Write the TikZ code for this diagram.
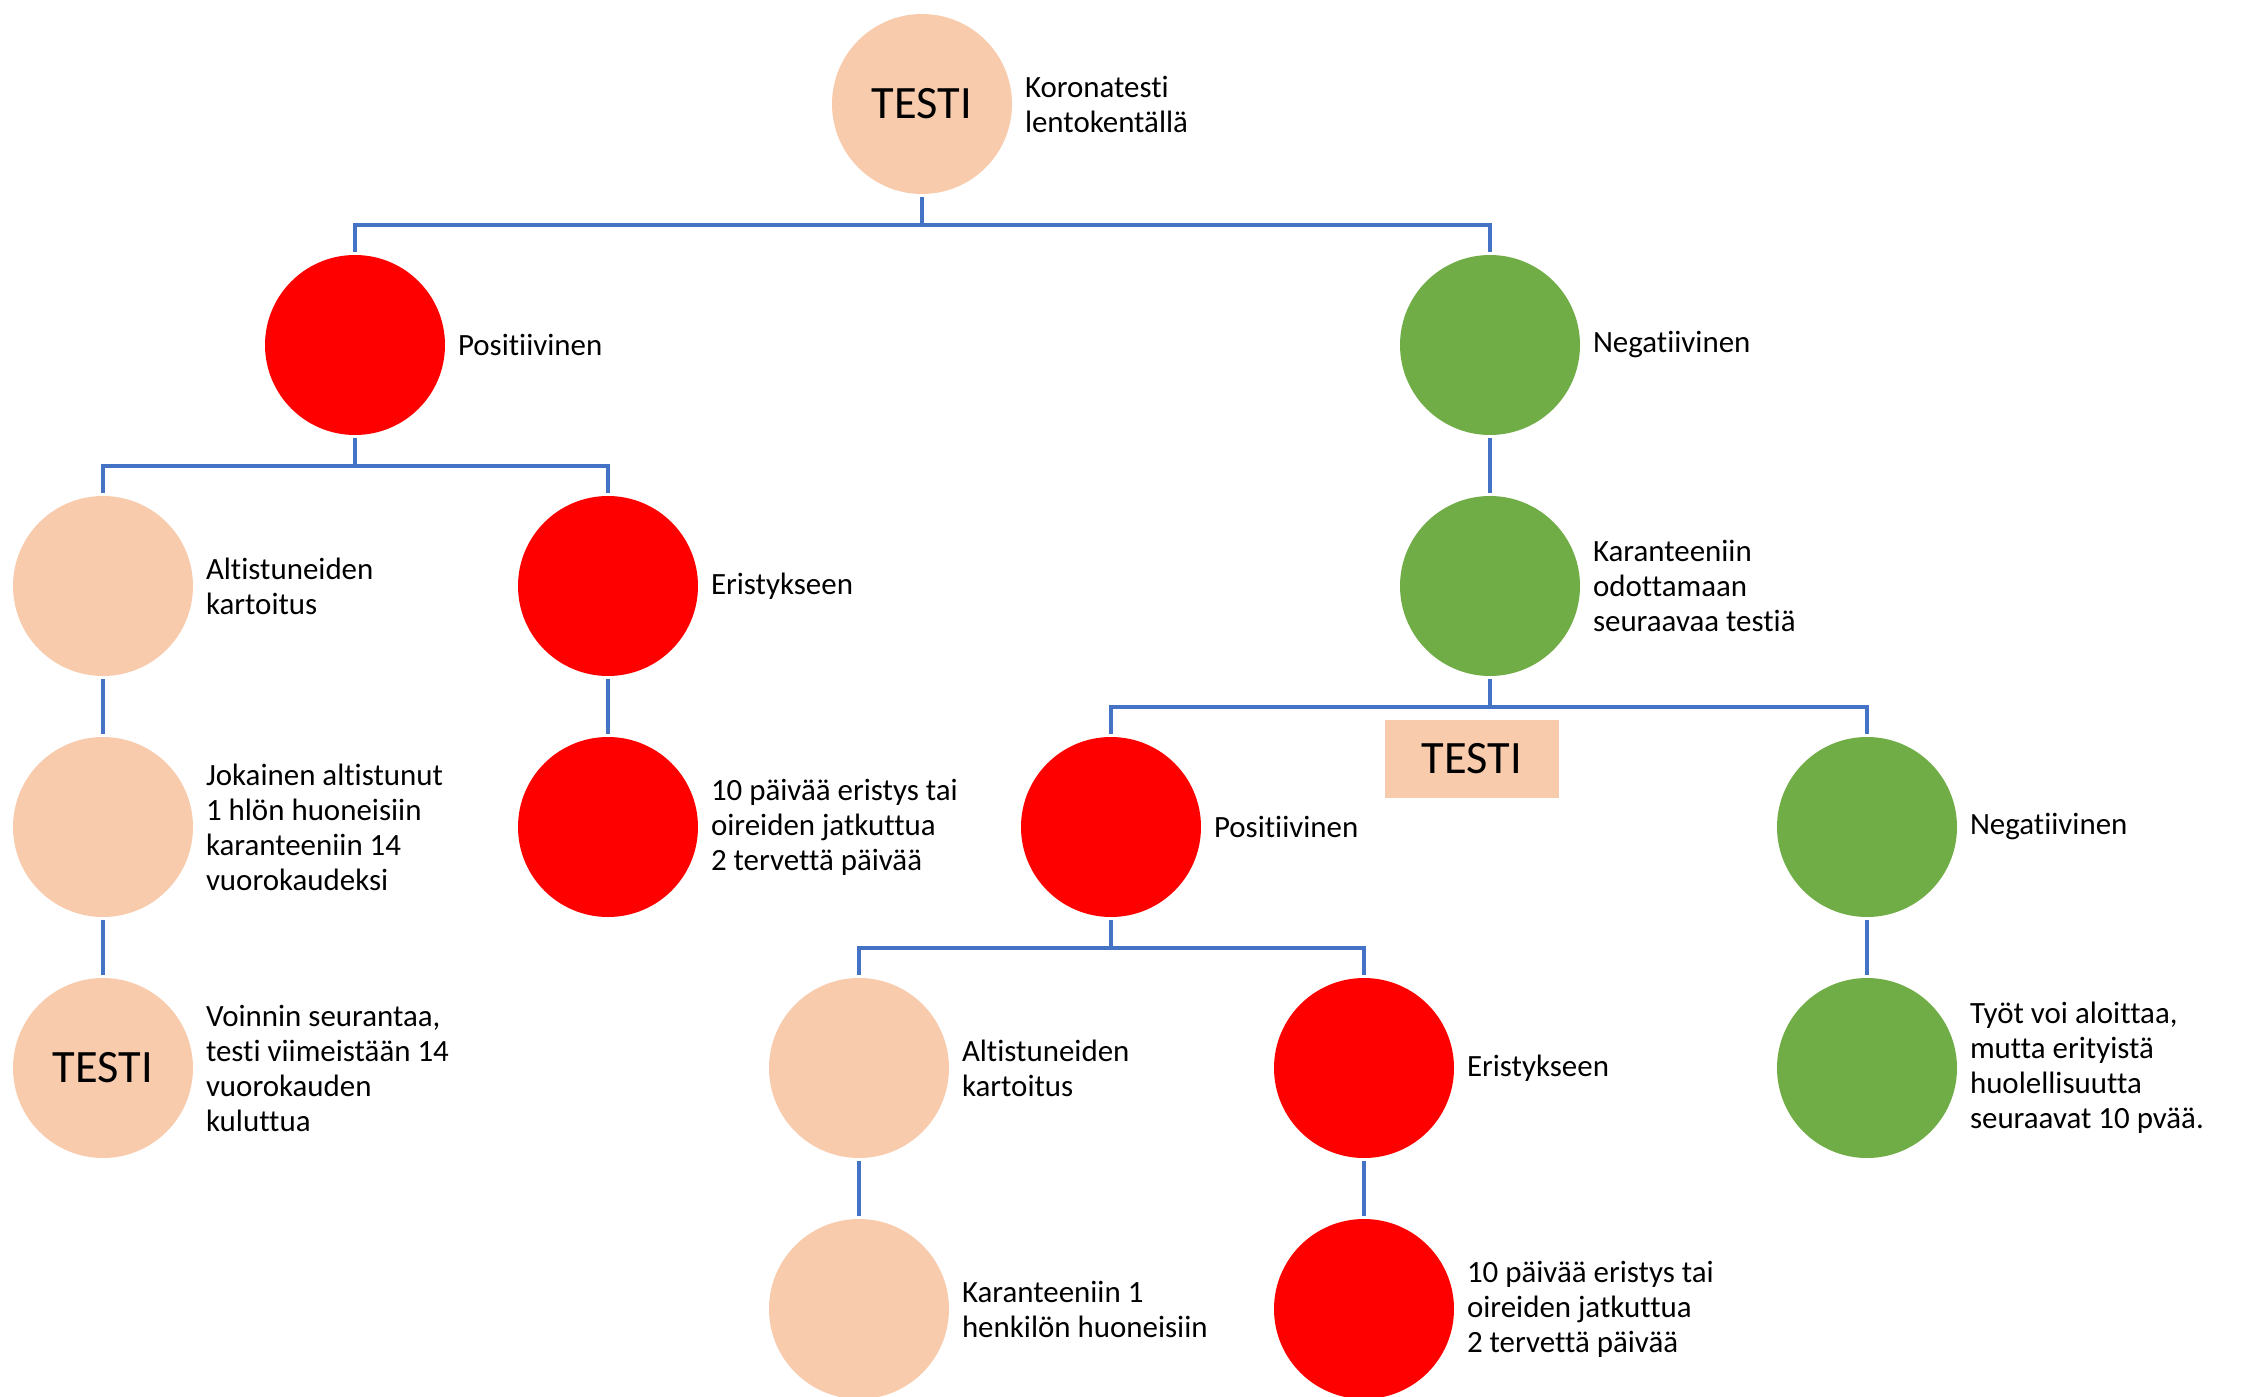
\documentclass[tikz,border=0pt]{standalone}
\usepackage{fontspec}
\setmainfont{Carlito}[RawFeature={-liga;-clig;-calt;-dlig;-rlig}]
\usetikzlibrary{positioning}

\definecolor{peach}{HTML}{F8CBAD}
\definecolor{kred}{HTML}{FF0000}
\definecolor{kgreen}{HTML}{70AD47}
\definecolor{kblue}{HTML}{4472C4}

\tikzset{
    ball/.style={circle, fill=#1, minimum size=1.8cm, inner sep=0pt, outer sep=0.03cm,
        font=\fontsize{13.2}{15}\selectfont},
    lbl/.style={align=left, inner sep=0pt, outer sep=0pt,
        font=\fontsize{8.8}{9.96}\selectfont},
    link/.style={draw=kblue, line width=0.95pt},
}

\begin{document}
\begin{tikzpicture}
        \useasboundingbox (0,0) rectangle (22.42,-13.97);
        \def\ytop{1.04}
        \def\ysep{2.41}

        % circles with their texts
        \foreach \n/\x/\r/\c/\m/\t in {
            testi/9.22/0/peach/TESTI/{Koronatesti\\lentokentällä},
            pos/3.55/1/kred//Positiivinen,
            neg/14.90/1/kgreen//Negatiivinen,
            alt/1.03/2/peach//{Altistuneiden\\kartoitus},
            eri/6.08/2/kred//Eristykseen,
            kar/14.90/2/kgreen//{Karanteeniin\\odottamaan\\seuraavaa testiä},
            jok/1.03/3/peach//{Jokainen altistunut\\1 hlön huoneisiin\\karanteeniin 14\\vuorokaudeksi},
            pvm/6.08/3/kred//{10 päivää eristys tai\\oireiden jatkuttua\\2 tervettä päivää},
            pos2/11.11/3/kred//Positiivinen,
            neg2/18.67/3/kgreen//Negatiivinen,
            voi/1.03/4/peach/TESTI/{Voinnin seurantaa,\\testi viimeistään 14\\vuorokauden\\kuluttua},
            alt2/8.59/4/peach//{Altistuneiden\\kartoitus},
            eri2/13.64/4/kred//Eristykseen,
            tyo/18.67/4/kgreen//{Työt voi aloittaa,\\mutta erityistä\\huolellisuutta\\seuraavat 10 pvää.},
            kar2/8.59/5/peach//{Karanteeniin 1\\henkilön huoneisiin},
            pvm2/13.64/5/kred//{10 päivää eristys tai\\oireiden jatkuttua\\2 tervettä päivää}} {
            \pgfmathsetmacro{\y}{-(\ytop + \r*\ysep)}
            \node[ball=\c] (\n) at (\x,\y) {\m};
            \node[lbl, right=0.10cm of \n] (\n-t) {\t};
        }

        % second test box
        \node[fill=peach, minimum width=1.74cm, minimum height=0.78cm, inner sep=0pt,
            font=\fontsize{13.2}{15}\selectfont] (testi2) at (14.72,-7.59) {TESTI};

        % branching connectors
        \foreach \a/\b in {testi/pos, testi/neg, pos/alt, pos/eri, kar/pos2, kar/neg2, pos2/alt2, pos2/eri2}
            \draw[link] (\a.south) -- ++(0,-0.28) -| (\b.north);

        % straight connectors
        \foreach \a/\b in {neg/kar, alt/jok, jok/voi, eri/pvm, neg2/tyo, alt2/kar2, eri2/pvm2}
            \draw[link] (\a) -- (\b);
    \end{tikzpicture}
\end{document}
